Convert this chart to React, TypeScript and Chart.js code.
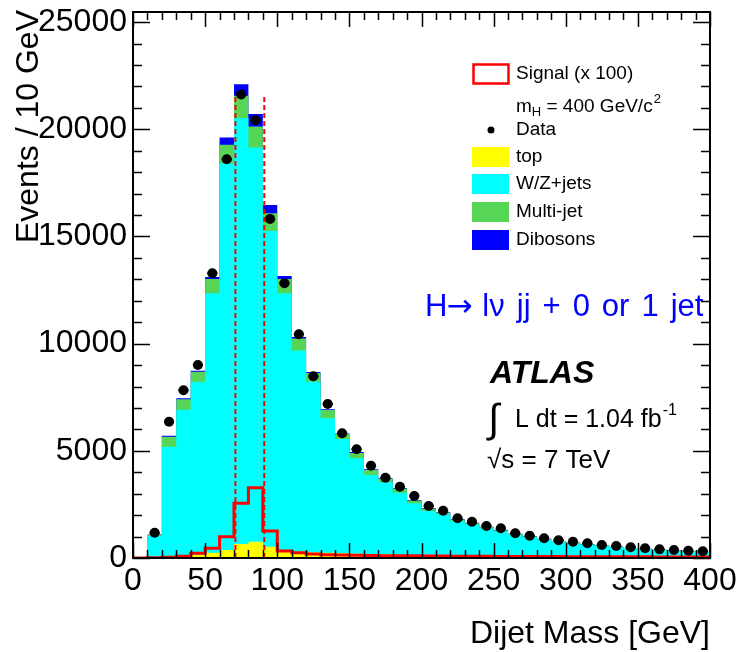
import React, { useEffect, useRef } from "react";
import { Chart, registerables } from "chart.js";

Chart.register(...registerables);

// Dijet invariant mass, 10 GeV bins (lower edges)
const binLow = [
  10, 20, 30, 40, 50, 60, 70, 80, 90, 100, 110, 120, 130, 140, 150, 160, 170, 180, 190, 200,
  210, 220, 230, 240, 250, 260, 270, 280, 290, 300, 310, 320, 330, 340, 350, 360, 370, 380, 390,
];
const BIN_WIDTH = 10;

// Observed events per bin
const dataEvents = [
  1180, 6360, 7825, 9000, 13285, 18605, 21620, 20425, 15818, 12817, 10437, 8480, 7180, 5818, 5072,
  4300, 3747, 3327, 2893, 2426, 2207, 1852, 1694, 1493, 1385, 1151, 1042, 918, 824, 762, 684, 607,
  560, 498, 451, 404, 373, 342, 311,
];

// Background components (stacked bottom to top)
const topBkg = [
  5, 30, 60, 140, 247, 373, 653, 762, 527, 373, 300, 270, 245, 220, 200, 180, 160, 145, 130, 115,
  100, 90, 80, 70, 62, 55, 50, 45, 40, 36, 33, 30, 27, 25, 22, 20, 18, 16, 15,
];
const wzJets = [
  1035, 5163, 6860, 8087, 12105, 18045, 19865, 18384, 14731, 11979, 9374, 7957, 6273, 5333, 4450,
  3693, 3372, 2902, 2422, 2078, 1939, 1630, 1480, 1320, 1188, 1025, 915, 805, 720, 654, 587, 530,
  473, 425, 383, 345, 312, 284, 260,
];
const multiJet = [
  50, 467, 485, 466, 666, 855, 1040, 984, 825, 666, 560, 405, 388, 230, 250, 230, 165, 190, 125,
  120, 75, 70, 65, 55, 50, 45, 40, 35, 30, 28, 26, 23, 20, 18, 17, 15, 14, 13, 12,
];
const dibosons = [
  10, 40, 45, 47, 92, 339, 546, 578, 388, 140, 78, 47, 32, 28, 47, 33, 28, 30, 26, 21, 16, 15, 15,
  13, 12, 10, 9, 8, 7, 6, 6, 5, 5, 4, 4, 4, 3, 3, 3,
];

// Signal m_H = 400 GeV, scaled x 100
const signalLow = [
  0, 10, 20, 30, 40, 50, 60, 70, 80, 90, 100, 110, 120, 130, 140, 150, 160, 170, 180, 190, 200,
  210, 220, 230, 240, 250, 260, 270, 280, 290, 300, 310, 320, 330, 340, 350, 360, 370, 380, 390,
];
const signalX100 = [
  5, 10, 40, 80, 220, 450, 995, 2550, 3280, 1260, 330, 250, 190, 150, 135, 125, 115, 110, 105, 100,
  95, 90, 85, 80, 78, 75, 72, 70, 68, 66, 64, 62, 60, 58, 56, 54, 52, 50, 48, 46,
];

// W/Z mass window cut lines
const massWindow = [71, 91];
const massWindowTop = 21600;

const xTicks = [0, 50, 100, 150, 200, 250, 300, 350, 400];
const yTicks = [0, 5000, 10000, 15000, 20000, 25000];
const X_MAX = 400;
const Y_MAX = 25470;

const FONT = '"Liberation Sans", Arial, Helvetica, sans-serif';
const SYMBOL_FONT = '"DejaVu Sans", sans-serif';

const COLORS = {
  top: "#ffff00",
  wz: "#00ffff",
  multi: "#57d557",
  diboson: "#0000ff",
  signal: "#ff0000",
  data: "#000000",
  label: "#0000ff",
};

// Turn per-bin values into a histogram outline (left and right edge of each bin)
function histPoints(lows: number[], values: number[]) {
  const pts: { x: number; y: number }[] = [];
  lows.forEach((lo, i) => {
    pts.push({ x: lo, y: values[i] });
    pts.push({ x: lo + BIN_WIDTH, y: values[i] });
  });
  return pts;
}

function cumulate(...parts: number[][]) {
  return parts[0].map((_, i) => parts.reduce((s, p) => s + p[i], 0));
}

type TextOpts = {
  color?: string;
  weight?: string;
  style?: string;
  align?: CanvasTextAlign;
  baseline?: CanvasTextBaseline;
  family?: string;
};

function text(ctx: CanvasRenderingContext2D, s: string, x: number, y: number, size: number, opts: TextOpts = {}) {
  ctx.font = `${opts.style || "normal"} ${opts.weight || "normal"} ${size}px ${opts.family || FONT}`;
  ctx.fillStyle = opts.color || "#000";
  ctx.textAlign = opts.align || "left";
  ctx.textBaseline = opts.baseline || "alphabetic";
  ctx.fillText(s, x, y);
  return ctx.measureText(s).width;
}

// Words with a slightly wider, TLatex-like gap between them
function spacedText(ctx: CanvasRenderingContext2D, s: string, x: number, y: number, size: number, gap: number, opts: TextOpts = {}) {
  let cx = x;
  for (const word of s.split(" ")) {
    cx += text(ctx, word, cx, y, size, opts) + gap;
  }
  return cx - gap - x;
}

const decorPlugin = {
  id: "atlasDecor",
  afterDatasetsDraw(chart: any) {
    const { ctx, chartArea: a } = chart;
    const xs = chart.scales.x;
    const ys = chart.scales.y;
    ctx.save();

    // mass window
    ctx.strokeStyle = COLORS.signal;
    ctx.lineWidth = 2;
    ctx.setLineDash([5, 3]);
    for (const m of massWindow) {
      const px = xs.getPixelForValue(m);
      ctx.beginPath();
      ctx.moveTo(px, ys.getPixelForValue(0));
      ctx.lineTo(px, ys.getPixelForValue(massWindowTop));
      ctx.stroke();
    }
    ctx.setLineDash([]);

    // data error bars
    ctx.strokeStyle = COLORS.data;
    ctx.lineWidth = 2;
    binLow.forEach((lo, i) => {
      const c = lo + BIN_WIDTH / 2;
      const n = dataEvents[i];
      const px = xs.getPixelForValue(c);
      const py = ys.getPixelForValue(n);
      const e = Math.sqrt(n);
      ctx.beginPath();
      ctx.moveTo(xs.getPixelForValue(c - 3.5), py);
      ctx.lineTo(xs.getPixelForValue(c + 3.5), py);
      ctx.moveTo(px, ys.getPixelForValue(n - e));
      ctx.lineTo(px, ys.getPixelForValue(n + e));
      ctx.stroke();
    });

    // frame
    ctx.strokeStyle = "#000";
    ctx.lineWidth = 2;
    ctx.strokeRect(a.left, a.top, a.right - a.left, a.bottom - a.top);

    // inward ticks on all four sides
    ctx.lineWidth = 1.5;
    ctx.beginPath();
    for (let v = 0; v <= X_MAX; v += 10) {
      const px = Math.round(xs.getPixelForValue(v)) + 0.5;
      const len = v % 50 === 0 ? 15 : 8;
      ctx.moveTo(px, a.bottom);
      ctx.lineTo(px, a.bottom - len);
      ctx.moveTo(px, a.top);
      ctx.lineTo(px, a.top + len);
    }
    for (let v = 0; v <= 25000; v += 1000) {
      const py = Math.round(ys.getPixelForValue(v)) + 0.5;
      const len = v % 5000 === 0 ? 17 : 9;
      ctx.moveTo(a.left, py);
      ctx.lineTo(a.left + len, py);
      ctx.moveTo(a.right, py);
      ctx.lineTo(a.right - len, py);
    }
    ctx.stroke();
    ctx.restore();
  },
  afterDraw(chart: any) {
    const { ctx, chartArea: a } = chart;
    ctx.save();

    // axis titles
    text(ctx, "Dijet Mass [GeV]", a.right, 643, 32, { align: "right" });
    ctx.save();
    ctx.translate(38, 10);
    ctx.rotate(-Math.PI / 2);
    text(ctx, "Events / 10 GeV", 0, 0, 32, { align: "right" });
    ctx.restore();

    // legend
    const lx = 472;
    const tx = 516;
    const LS = 19;
    ctx.fillStyle = "#fff";
    ctx.fillRect(lx + 1, 65, 35, 18);
    ctx.strokeStyle = COLORS.signal;
    ctx.lineWidth = 2.5;
    ctx.strokeRect(lx + 1.5, 64.5, 35, 19);
    text(ctx, "Signal (x 100)", tx, 74, LS, { baseline: "middle" });

    let w = text(ctx, "m", tx, 112, LS);
    let cx = tx + w;
    w = text(ctx, "H", cx, 116, 13);
    cx += w;
    w = text(ctx, " = 400 GeV/c", cx, 112, LS);
    cx += w;
    text(ctx, "2", cx + 1, 103, 13);

    ctx.fillStyle = COLORS.data;
    ctx.beginPath();
    ctx.arc(491, 130, 3.5, 0, Math.PI * 2);
    ctx.fill();
    text(ctx, "Data", tx, 130, LS, { baseline: "middle" });

    const boxes: [string, string, number][] = [
      ["top", COLORS.top, 157],
      ["W/Z+jets", COLORS.wz, 184],
      ["Multi-jet", COLORS.multi, 212],
      ["Dibosons", COLORS.diboson, 240],
    ];
    for (const [label, color, cy] of boxes) {
      ctx.fillStyle = color;
      ctx.fillRect(lx, cy - 10, 37, 20);
      text(ctx, label, tx, cy, LS, { baseline: "middle" });
    }

    // channel label
    const blue = { color: COLORS.label };
    w = text(ctx, "H", 425, 316, 31, blue);
    const aw = text(ctx, "\u2192", 425 + w - 1, 316, 31, { ...blue, family: SYMBOL_FONT });
    spacedText(ctx, "l\u03BD jj + 0 or 1 jet", 425 + w + aw + 9, 316, 31, 12, blue);

    // experiment, luminosity and energy
    text(ctx, "ATLAS", 490, 383, 32, { weight: "bold", style: "italic" });
    text(ctx, "\u222B", 488, 432, 40);
    w = text(ctx, "L dt = 1.04 fb", 515, 427, 25);
    text(ctx, "-1", 515 + w + 1, 415, 16);
    text(ctx, "\u221As = 7 TeV", 487, 468, 26);

    ctx.restore();
  },
};

export default function App() {
  const canvasRef = useRef<HTMLCanvasElement>(null);

  useEffect(() => {
    const canvas = canvasRef.current;
    if (!canvas) return;

    const c1 = cumulate(topBkg);
    const c2 = cumulate(topBkg, wzJets);
    const c3 = cumulate(topBkg, wzJets, multiJet);
    const c4 = cumulate(topBkg, wzJets, multiJet, dibosons);

    const fillSet = (label: string, values: number[], color: string, order: number) => ({
      type: "line" as const,
      label,
      data: histPoints(binLow, values),
      backgroundColor: color,
      borderColor: "rgba(0,0,0,0)",
      borderWidth: 0,
      pointRadius: 0,
      tension: 0,
      fill: "origin",
      order,
    });

    const chart = new Chart(canvas, {
      type: "line",
      data: {
        datasets: [
          fillSet("Dibosons", c4, COLORS.diboson, 10),
          fillSet("Multi-jet", c3, COLORS.multi, 9),
          fillSet("W/Z+jets", c2, COLORS.wz, 8),
          fillSet("top", c1, COLORS.top, 7),
          {
            type: "line",
            label: "Signal (x 100)",
            data: histPoints(signalLow, signalX100),
            borderColor: COLORS.signal,
            borderWidth: 3,
            pointRadius: 0,
            tension: 0,
            fill: false,
            order: 2,
          },
          {
            type: "line",
            label: "Data",
            data: binLow.map((lo, i) => ({ x: lo + BIN_WIDTH / 2, y: dataEvents[i] })),
            showLine: false,
            pointRadius: 5,
            pointBackgroundColor: COLORS.data,
            pointBorderWidth: 0,
            order: 1,
          },
        ] as any,
      },
      options: {
        responsive: false,
        devicePixelRatio: 1,
        animation: false,
        events: [],
        layout: { padding: { left: 0, top: 12, right: 26, bottom: 0 } },
        plugins: { legend: { display: false }, tooltip: { enabled: false } },
        scales: {
          x: {
            type: "linear",
            min: 0,
            max: X_MAX,
            grid: { display: false, drawTicks: false },
            border: { display: false },
            ticks: {
              autoSkip: false,
              maxRotation: 0,
              padding: 4,
              color: "#000",
              font: { family: FONT, size: 32 },
              callback: (v: any) => String(v),
            },
            afterBuildTicks: (s: any) => {
              s.ticks = xTicks.map((v) => ({ value: v }));
            },
            afterFit: (s: any) => {
              s.height = 94;
              s.paddingLeft = 0;
              s.paddingRight = 0;
              s.paddingTop = 0;
              s.paddingBottom = 0;
            },
          },
          y: {
            type: "linear",
            min: 0,
            max: Y_MAX,
            grid: { display: false, drawTicks: false },
            border: { display: false },
            ticks: {
              autoSkip: false,
              padding: 6,
              color: "#000",
              font: { family: FONT, size: 32 },
              callback: (v: any) => String(v),
            },
            afterBuildTicks: (s: any) => {
              s.ticks = yTicks.map((v) => ({ value: v }));
            },
            afterFit: (s: any) => {
              s.width = 133;
              s.paddingLeft = 0;
              s.paddingRight = 0;
              s.paddingTop = 0;
              s.paddingBottom = 0;
            },
          },
        },
      },
      plugins: [decorPlugin],
    });

    return () => chart.destroy();
  }, []);

  return (
    <div style={{ position: "fixed", left: 0, top: 0, width: 736, height: 652, background: "#fff" }}>
      <canvas ref={canvasRef} width={736} height={652} style={{ display: "block", width: 736, height: 652 }} />
    </div>
  );
}
